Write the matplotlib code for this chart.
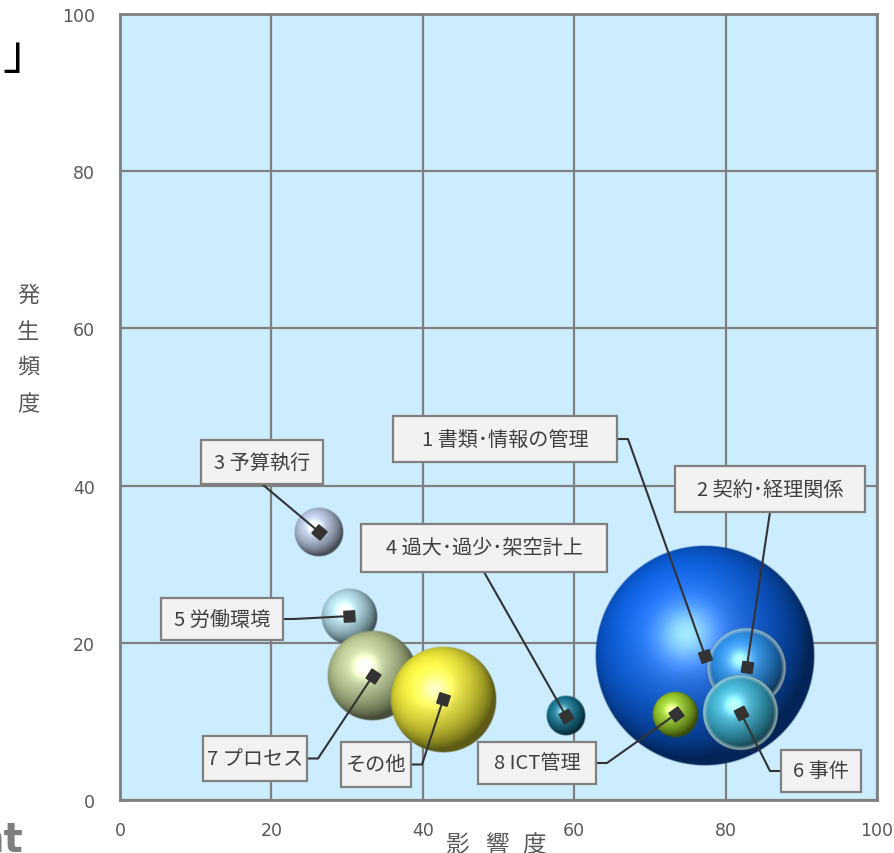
import numpy as np
import matplotlib
matplotlib.use('Agg')
import matplotlib.pyplot as plt
from matplotlib.patches import Rectangle

plt.rcParams['font.family'] = ['Noto Sans CJK JP', 'DejaVu Sans']

# data: 影響度 (x), 発生頻度 (y), bubble size
labels = ['1 書類･情報の管理', '2 契約･経理関係', '3 予算執行', '4 過大･過少･架空計上',
          '5 労働環境', '6 事件', '7 プロセス', '8 ICT管理', 'その他']
impact = [77.3, 82.8, 26.3, 58.9, 30.3, 82.0, 33.4, 73.4, 42.7]
frequency = [18.3, 16.9, 34.1, 10.7, 23.4, 11.1, 15.8, 10.9, 12.8]
size = [121, 16.4, 6.25, 4.0, 8.1, 14.8, 20.7, 5.5, 28.6]

# label boxes: (left, right, top, bottom) in figure pixels, and leader side
label_box = [(393, 617, 417, 463), (675, 865, 467, 513), (201, 323, 441, 485),
             (361, 607, 525, 573), (161, 283, 599, 641), (781, 861, 751, 793),
             (203, 307, 737, 782), (478, 596, 743, 785), (341, 411, 743, 788)]
leader_side = ['right', 'bottom', 'bottom', 'bottom', 'right', 'left', 'right', 'right', 'right']

colors = [(0.04, 0.38, 0.90), (0.15, 0.55, 0.90), (0.72, 0.78, 0.88), (0.08, 0.45, 0.56),
          (0.70, 0.87, 0.92), (0.22, 0.68, 0.80), (0.74, 0.80, 0.58), (0.58, 0.78, 0.15),
          (0.95, 0.93, 0.22)]
glass = [False, True, False, False, False, True, False, False, False]

TXT = '#404040'
GRAY = '#808080'
W, H = 895, 854


def sphere(base, r_px, rim=False):
    n = max(int(r_px * 4), 60)
    t = np.linspace(-1, 1, n)
    u, v = np.meshgrid(t, t)
    rho = np.sqrt(u ** 2 + v ** 2)
    z = np.sqrt(np.clip(1 - rho ** 2, 0, 1))
    L = np.array([-0.32, 0.38, 0.87])
    L = L / np.linalg.norm(L)
    ndl = np.clip(u * L[0] + v * L[1] + z * L[2], 0, 1)
    Hv = L + np.array([0, 0, 1.0])
    Hv = Hv / np.linalg.norm(Hv)
    ndh = np.clip(u * Hv[0] + v * Hv[1] + z * Hv[2], 0, 1)
    spec = ndh ** 30
    glow = ndh ** 6
    b = np.array(base)
    rgb = b * (0.38 + 0.70 * ndl[..., None]) + 0.22 * glow[..., None] * (1 - b) + 0.38 * spec[..., None]
    if rim:
        w = np.clip((rho - 0.86) / 0.1, 0, 1) * np.clip((1.0 - rho) / 0.04, 0, 1)
        rgb = rgb * (1 - 0.65 * w[..., None]) + 0.65 * w[..., None] * np.array([0.85, 0.9, 0.92])
    rgb = np.clip(rgb, 0, 1)
    alpha = np.clip((1 - rho) * r_px, 0, 1)
    return np.dstack([rgb, alpha])


fig = plt.figure(figsize=(W / 100, H / 100), dpi=100)
ax = fig.add_axes([120 / W, 1 - 801 / H, 757 / W, 786 / H])
ax.set_facecolor('#CCECFF')

bb = ax.get_window_extent()
sx = bb.width / 100.0
sy = bb.height / 100.0

# bubbles
for i in range(len(labels)):
    r = 10 * np.sqrt(size[i])
    rx, ry = r / sx, r / sy
    x, y = impact[i], frequency[i]
    ax.imshow(sphere(colors[i], r, glass[i]), extent=[x - rx, x + rx, y - ry, y + ry],
              origin='lower', aspect='auto', interpolation='bilinear', zorder=2 + i * 0.01)

ax.set_xlim(0, 100)
ax.set_ylim(0, 100)
ax.set_xticks(range(0, 101, 20))
ax.set_yticks(range(0, 101, 20))
ax.grid(color=GRAY, lw=1.6)
ax.set_axisbelow(True)
for s in ax.spines.values():
    s.set_color(GRAY)
    s.set_linewidth(2)
ax.tick_params(length=0, labelsize=12.5, labelcolor='#595959')
ax.tick_params(axis='x', pad=15)
ax.tick_params(axis='y', pad=18)
for lab in ax.get_xticklabels() + ax.get_yticklabels():
    lab.set_family('DejaVu Sans')

# label boxes and leader lines
inv = ax.transData.inverted()
for i in range(len(labels)):
    x0, x1, top, bot = label_box[i]
    y0, y1 = H - bot, H - top
    ax.add_patch(Rectangle((x0, y0), x1 - x0, y1 - y0, transform=None,
                           fc='#F2F2F2', ec=GRAY, lw=1.6, zorder=6))
    fig.text((x0 + x1) / 2 / W, (y0 + y1) / 2 / H, labels[i], ha='center', va='center',
             fontsize=14.5, color=TXT, zorder=7)
    px, py = ax.transData.transform((impact[i], frequency[i]))
    ym = (y0 + y1) / 2
    if leader_side[i] == 'right':
        pts = [(x1, ym), (x1 + 11, ym), (px, py)]
    elif leader_side[i] == 'left':
        pts = [(x0, ym), (x0 - 11, ym), (px, py)]
    else:
        pts = [((x0 + x1) / 2, y0), (px, py)]
    d = inv.transform(pts)
    ax.plot(d[:, 0], d[:, 1], color='#333333', lw=1.5, zorder=5)
    ang = np.degrees(np.arctan2(py - pts[-2][1], px - pts[-2][0]))
    ax.plot([impact[i]], [frequency[i]], marker=(4, 0, 45 + ang), ms=11,
            color='#333333', mec='#333333', zorder=5.5)

# axis titles
for ch, xc in zip('影響度', [458, 497, 534]):
    fig.text(xc / W, 1 - 846 / H, ch, ha='center', va='center', fontsize=17, color='#595959')
for ch, yc in zip('発生頻度', [295, 332, 368, 405]):
    fig.text(28 / W, 1 - yc / H, ch, ha='center', va='center', fontsize=16, color='#595959')

# fragments of the surrounding slide
fig.text(2 / W, 1 - 56 / H, '」', ha='left', va='center', fontsize=34, color='black')
fig.text(23 / W, 1 - 852 / H, 'nt', ha='right', va='baseline', fontsize=29,
         fontweight='bold', color='#7f7f7f', family='DejaVu Sans')

fig.savefig('out.png', dpi=100)
